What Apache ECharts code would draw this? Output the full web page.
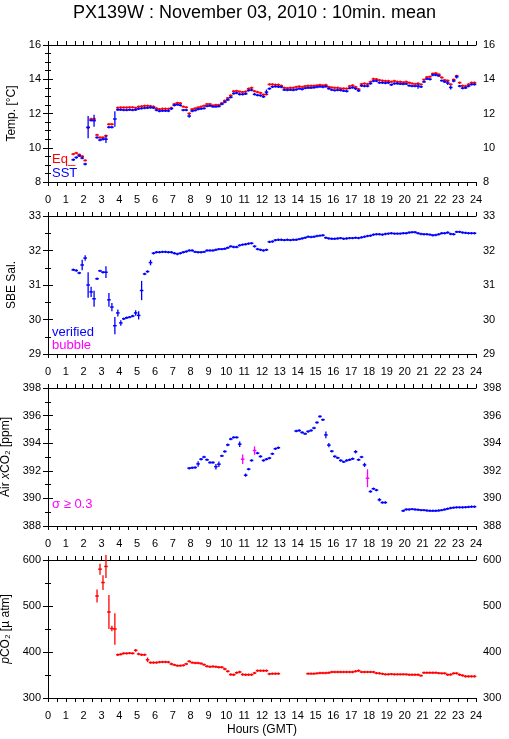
<!DOCTYPE html>
<html>
<head>
<meta charset="utf-8">
<script src="https://cdn.jsdelivr.net/npm/echarts@6/dist/echarts.min.js"></script>
<style>
  html, body { margin: 0; padding: 0; background: #fff; }
  #chart { width: 509px; height: 739px; }
</style>
</head>
<body>
<div id="chart"></div>
<script>
// 10-minute bins, 6 per hour, index i covers hours [i/6, (i+1)/6]
const N = null;

const eqTemp = [
  N, N, N, N, N, N,
  N, N, 9.63, 9.69, 9.6, 9.5,
  9.26, 11.17, 11.68, 11.68, 10.75, 10.6,
  10.6, 10.7, 11.37, 11.37, N, 12.34,
  12.35, 12.35, 12.35, 12.36, 12.36, 12.33,
  12.4, 12.42, 12.45, 12.45, 12.43, 12.4,
  12.3, 12.25, 12.28, 12.28, 12.27, 12.32,
  12.55, 12.62, 12.6, 12.4, 12.36, 12.0,
  12.25, 12.3, 12.35, 12.4, 12.45, 12.55,
  12.55, 12.47, 12.5, 12.5, 12.6, 12.75,
  12.9, 13.05, 13.3, 13.32, 13.28, 13.25,
  13.28, 13.45, 13.5, 13.3, 13.25, 13.2,
  13.1, 13.12, 13.7, 13.7, 13.68, 13.68,
  13.62, 13.5, 13.48, 13.5, 13.5, 13.55,
  13.58, 13.55, 13.6, 13.62, 13.62, 13.62,
  13.64, 13.67, 13.64, 13.66, 13.55, 13.52,
  13.5, 13.5, 13.46, 13.46, 13.45, 13.6,
  13.64, 13.55, 13.42, 13.72, 13.75, 13.72,
  13.85, 14.02, 14.0, 13.95, 13.92, 13.9,
  13.9, 13.85, 13.9, 13.85, 13.85, 13.82,
  13.85, 13.8, 13.75, 13.72, 13.75, 13.7,
  13.98, 14.12, 14.15, 14.33, 14.35, 14.28,
  14.1, 13.95, 13.92, 13.7, 13.98, 14.2,
  13.8, 13.62, 13.6, 13.7, 13.8, 13.8
];

const sst = [
  N, N, N, N, N, N,
  N, N, 9.3, 9.43, 9.53, 9.4,
  9.05, 11.2, 11.6, 11.58, 10.6, 10.45,
  10.5, 10.5, 11.2, 11.2, 11.68, 12.22,
  12.22, 12.2, 12.2, 12.22, 12.2, 12.22,
  12.28, 12.3, 12.32, 12.33, 12.35, 12.33,
  12.2, 12.14, 12.16, 12.16, 12.15, 12.28,
  12.48, 12.52, 12.48, 12.2, 12.2, 11.85,
  12.15, 12.18, 12.25, 12.28, 12.3, 12.43,
  12.45, 12.4, 12.4, 12.42, 12.55, 12.67,
  12.8, 12.95, 13.17, 13.2, 13.12, 13.12,
  13.15, 13.35, 13.37, 13.12, 13.07, 13.05,
  12.98, 13.25, 13.45, 13.56, 13.58, 13.56,
  13.55, 13.38, 13.37, 13.38, 13.37, 13.4,
  13.45, 13.42, 13.48, 13.5, 13.5, 13.52,
  13.55, 13.57, 13.55, 13.58, 13.45, 13.38,
  13.35, 13.37, 13.36, 13.32, 13.3, 13.48,
  13.52, 13.45, 13.33, 13.62, 13.6, 13.6,
  13.75, 13.9, 13.9, 13.8, 13.8, 13.78,
  13.8, 13.68, 13.75, 13.75, 13.73, 13.72,
  13.73, 13.63, 13.6, 13.6, 13.6, 13.56,
  13.85, 14.02, 14.0, 14.25, 14.25, 14.2,
  13.92, 13.85, 13.78, 13.52, 13.9, 14.14,
  13.6, 13.48, 13.5, 13.6, 13.7, 13.7
];
// [bin index, std dev]
const sstSd = [[12, 0.08], [13, 0.65], [15, 0.35], [19, 0.22], [22, 0.45], [47, 0.1], [73, 0.15], [124, 0.15], [134, 0.12], [135, 0.12], [137, 0.1]];

const salinity = [
  N, N, N, N, N, N,
  N, N, 31.44, 31.42, 31.35, 31.58,
  31.78, 31.0, 30.8, 30.6, 31.18, 31.41,
  31.37, 31.37, 30.57, 30.36, 29.82, 30.19,
  29.9, 30.02, 30.05, 30.07, 30.1, 30.19,
  30.12, 30.84, 31.32, 31.39, 31.65, 31.92,
  31.95, 31.95, 31.96, 31.96, 31.95, 31.95,
  31.92, 31.9, 31.92, 31.95, 31.97, 32.0,
  32.0, 31.96, 31.95, 31.95, 31.96, 32.0,
  32.0, 32.0, 32.02, 32.04, 32.04, 32.05,
  32.08, 32.12, 32.1, 32.1, 32.15, 32.17,
  32.18, 32.2, 32.21, 32.12, 32.04, 32.02,
  32.0, 32.02, 32.25, 32.26, 32.3, 32.31,
  32.31, 32.3, 32.31, 32.3, 32.31, 32.31,
  32.33, 32.35, 32.37, 32.4, 32.39, 32.4,
  32.42, 32.43, 32.44, 32.37, 32.35, 32.34,
  32.34, 32.35, 32.36, 32.34, 32.35, 32.36,
  32.36, 32.37, 32.36, 32.38, 32.4, 32.42,
  32.43, 32.46, 32.47, 32.47, 32.46, 32.48,
  32.49, 32.5, 32.49, 32.49, 32.49, 32.5,
  32.5, 32.52, 32.53, 32.53, 32.5, 32.48,
  32.47, 32.47, 32.46, 32.44, 32.45, 32.47,
  32.5, 32.5, 32.52, 32.48, 32.47, 32.54,
  32.54, 32.52, 32.51, 32.5, 32.5, 32.5
];
const salSd = [[11, 0.15], [12, 0.08], [13, 0.37], [14, 0.15], [15, 0.23], [19, 0.17], [20, 0.2], [21, 0.12], [22, 0.25], [23, 0.1], [24, 0.08], [29, 0.08], [30, 0.12], [31, 0.28], [34, 0.08]];

const airXco2 = [
  N, N, N, N, N, N,
  N, N, N, N, N, N,
  N, N, N, N, N, N,
  N, N, N, N, N, N,
  N, N, N, N, N, N,
  N, N, N, N, N, N,
  N, N, N, N, N, N,
  N, N, N, N, N, 392.19,
  392.22, 392.24, 392.5, 392.84, 393.0, 392.8,
  392.6, 392.6, 392.3, 392.48, 393.08, 393.4,
  393.88, 394.3, 394.42, 394.42, 393.93, 392.84,
  391.68, 392.12, 392.75, 393.47, 393.28, 393.04,
  392.75, 392.84, 392.92, 393.23, 393.6, 393.67,
  N, N, N, N, N, 394.88,
  394.92, 394.78, 394.68, 394.85, 394.92, 395.1,
  395.5, 395.94, 395.7, 394.6, 393.86, 393.42,
  393.04, 392.94, 392.75, 392.65, 392.75, 392.8,
  392.87, 393.38, 392.8, 393.0, 392.43, 391.46,
  390.5, 390.7, 390.6, 389.9, 389.7, 389.7,
  N, N, N, N, N, 389.1,
  389.2, 389.2, 389.22, 389.2, 389.18, 389.15,
  389.15, 389.12, 389.1, 389.1, 389.1, 389.12,
  389.15, 389.2, 389.25, 389.3, 389.33, 389.35,
  389.35, 389.35, 389.36, 389.38, 389.4, 389.4
];
const airSd = [[50, 0.2], [56, 0.2], [57, 0.2], [60, 0.1], [64, 0.2], [65, 0.35], [66, 0.12], [69, 0.3], [93, 0.25], [94, 0.15], [103, 0.12], [106, 0.15], [107, 0.65], [111, 0.12]];
const airFlagged = [65, 69, 107];

const pco2 = [
  N, N, N, N, N, N,
  N, N, N, N, N, N,
  N, N, N, N, 521.7, 580,
  551, 586, 487, 451, 450, 394,
  395, 397, 397, 397.5, 397, 403.6,
  395.6, 394, 394, 383, 377, 377,
  377, 378, 378.3, 378.3, 378, 374,
  372, 370.3, 370.3, 371, 374, 379.7,
  377, 376, 376, 375, 372.5, 369,
  368, 368.5, 368, 367, 366.7, 363,
  358, 351, 350.7, 355, 356.5, 351,
  350.7, 350.7, 350.7, 354.3, 359.4, 359.4,
  359.4, 359.4, 352.2, 352.9, 352.9, 352.9,
  N, N, N, N, N, N,
  N, N, N, 352.9, 352.9, 352.9,
  353.5, 354.3, 354.3, 354.3, 355, 356.5,
  356.5, 356.5, 356.5, 356.5, 356.5, 356.5,
  356.5, 358, 359.4, 356.5, 356.5, 356.5,
  356.5, 356.5, 354, 353.6, 352.5, 351.4,
  351.4, 352, 351.4, 351.4, 351.4, 351.4,
  351.4, 350.7, 350.7, 350.7, 350.7, 348.6,
  355, 355, 355, 355, 355, 354,
  353.6, 353.6, 350.7, 351, 353.6, 353.6,
  350.7, 349, 347, 347, 347, 347
];
const pco2Sd = [[16, 14], [17, 12], [18, 16], [19, 25], [20, 37], [21, 6], [22, 34], [29, 3], [33, 5]];

const hourTicks = [0, 24, 1];

const FONT = 'Liberation Sans';
const BLACK = '#000';

const chart = echarts.init(document.getElementById('chart'), null, { renderer: 'canvas' });

const grids = [
  { left: 48, top: 45, width: 428, height: 137 },
  { left: 48, top: 216, width: 428, height: 138 },
  { left: 48, top: 388, width: 428, height: 138 },
  { left: 48, top: 560, width: 428, height: 138 }
].map(function (g) {
  return Object.assign(g, { containLabel: false, outerBoundsMode: 'none' });
});

function xAxes(g, showTop, showBottom) {
  const base = {
    gridIndex: g, type: 'value', min: hourTicks[0], max: hourTicks[1], interval: hourTicks[2],
    axisLine: { lineStyle: { color: BLACK, width: 1 } },
    axisTick: { show: true, inside: false, length: 4, lineStyle: { color: BLACK } },
    minorTick: { show: true, splitNumber: 2, length: 4, lineStyle: { color: BLACK } },
    splitLine: { show: false },
    axisLabel: { fontFamily: FONT, fontSize: 11, color: BLACK }
  };
  const bottom = Object.assign({}, base, {
    position: 'bottom',
    axisLabel: Object.assign({}, base.axisLabel, { show: showBottom, margin: 12 })
  });
  if (showBottom) {
    bottom.name = 'Hours (GMT)';
    bottom.nameLocation = 'middle';
    bottom.nameGap = 26;
    bottom.nameTextStyle = { fontFamily: FONT, fontSize: 12, color: BLACK };
  }
  const top = Object.assign({}, base, {
    position: 'top',
    axisLabel: Object.assign({}, base.axisLabel, { show: showTop, margin: 11 })
  });
  return [bottom, top];
}

function yAxes(g, min, max, interval, minorSplit, name, nameGap, rich) {
  const base = {
    gridIndex: g, type: 'value', min: min, max: max, interval: interval,
    axisLine: { show: true, lineStyle: { color: BLACK, width: 1 } },
    axisTick: { show: true, inside: false, length: 5, lineStyle: { color: BLACK } },
    minorTick: { show: true, splitNumber: minorSplit, length: 3, lineStyle: { color: BLACK } },
    splitLine: { show: false },
    axisLabel: { fontFamily: FONT, fontSize: 11, color: BLACK, margin: 7 }
  };
  const left = Object.assign({}, base, {
    position: 'left', name: name, nameLocation: 'middle', nameGap: nameGap,
    nameTextStyle: { fontFamily: FONT, fontSize: 12, color: BLACK, rich: rich || {} }
  });
  const right = Object.assign({}, base, { position: 'right' });
  return [left, right];
}

const nameRich = {
  n: { fontFamily: FONT, fontSize: 12, color: BLACK },
  i: { fontFamily: FONT, fontSize: 12, color: BLACK, fontStyle: 'italic' }
};

function toItems(vals, sds, flagged) {
  const sdMap = {};
  (sds || []).forEach(function (d) { sdMap[d[0]] = d[1]; });
  const items = [];
  vals.forEach(function (v, i) {
    if (v === null) return;
    const flag = flagged && flagged.indexOf(i) >= 0 ? 1 : 0;
    items.push([i, v, sdMap[i] || 0, flag]);
  });
  return items;
}

// each 10-min mean: horizontal step across its bin + vertical std-dev bar
function markSeries(vals, sds, color, g, flagged, flagColor) {
  return {
    type: 'custom',
    xAxisIndex: g * 2,
    yAxisIndex: g * 2,
    silent: true,
    clip: false,
    data: toItems(vals, sds, flagged),
    renderItem: function (params, api) {
      const i = api.value(0), v = api.value(1), sd = api.value(2), flag = api.value(3);
      const c = flag ? flagColor : color;
      const p0 = api.coord([i / 6, v]);
      const p1 = api.coord([(i + 1) / 6, v]);
      const pc = api.coord([(i + 0.5) / 6, v]);
      const top = api.coord([(i + 0.5) / 6, v + sd]);
      const bot = api.coord([(i + 0.5) / 6, v - sd]);
      const y1 = Math.min(top[1], pc[1] - 1.2);
      const y2 = Math.max(bot[1], pc[1] + 1.2);
      return {
        type: 'group',
        children: [
          { type: 'line', shape: { x1: p0[0] - 0.3, y1: p0[1], x2: p1[0] + 0.3, y2: p1[1] }, style: { stroke: c, lineWidth: 1.5 } },
          { type: 'line', shape: { x1: pc[0], y1: y1, x2: pc[0], y2: y2 }, style: { stroke: c, lineWidth: 1.3 } }
        ]
      };
    }
  };
}

function label(text, x, y, color) {
  return {
    type: 'text', x: x, y: y, silent: true,
    style: { text: text, fill: color, fontFamily: FONT, fontSize: 13, verticalAlign: 'middle', align: 'left' }
  };
}

const option = {
  animation: false,
  backgroundColor: '#fff',
  title: {
    text: 'PX139W : November 03, 2010 : 10min. mean',
    left: 'center', top: -1,
    textStyle: { fontFamily: FONT, fontSize: 18, fontWeight: 'normal', color: BLACK }
  },
  grid: grids,
  xAxis: [].concat(
    xAxes(0, false, false),
    xAxes(1, true, false),
    xAxes(2, true, false),
    xAxes(3, true, true)
  ),
  yAxis: [].concat(
    yAxes(0, 8, 16, 2, 4, 'Temp. [°C]', 28),
    yAxes(1, 29, 33, 1, 2, 'SBE Sal.', 29),
    yAxes(2, 388, 398, 2, 2, '{n|Air }{i|x}{n|CO₂ [ppm]}', 33, nameRich),
    yAxes(3, 300, 600, 100, 2, '{i|p}{n|CO₂ [µ atm]}', 31, nameRich)
  ),
  series: [
    markSeries(eqTemp, [], '#ff0000', 0),
    markSeries(sst, sstSd, '#0000ff', 0),
    markSeries(salinity, salSd, '#0000ff', 1),
    markSeries(airXco2, airSd, '#0000ff', 2, airFlagged, '#ff00ff'),
    markSeries(pco2, pco2Sd, '#ff0000', 3)
  ],
  graphic: [
    label('Eq_', 52, 159, '#ff0000'),
    label('SST', 52, 173, '#0000ff'),
    label('verified', 52, 332, '#0000ff'),
    label('bubble', 52, 345, '#ff00ff'),
    label('σ ≥ 0.3', 52, 504, '#ff00ff')
  ]
};

chart.setOption(option);
</script>
</body>
</html>
